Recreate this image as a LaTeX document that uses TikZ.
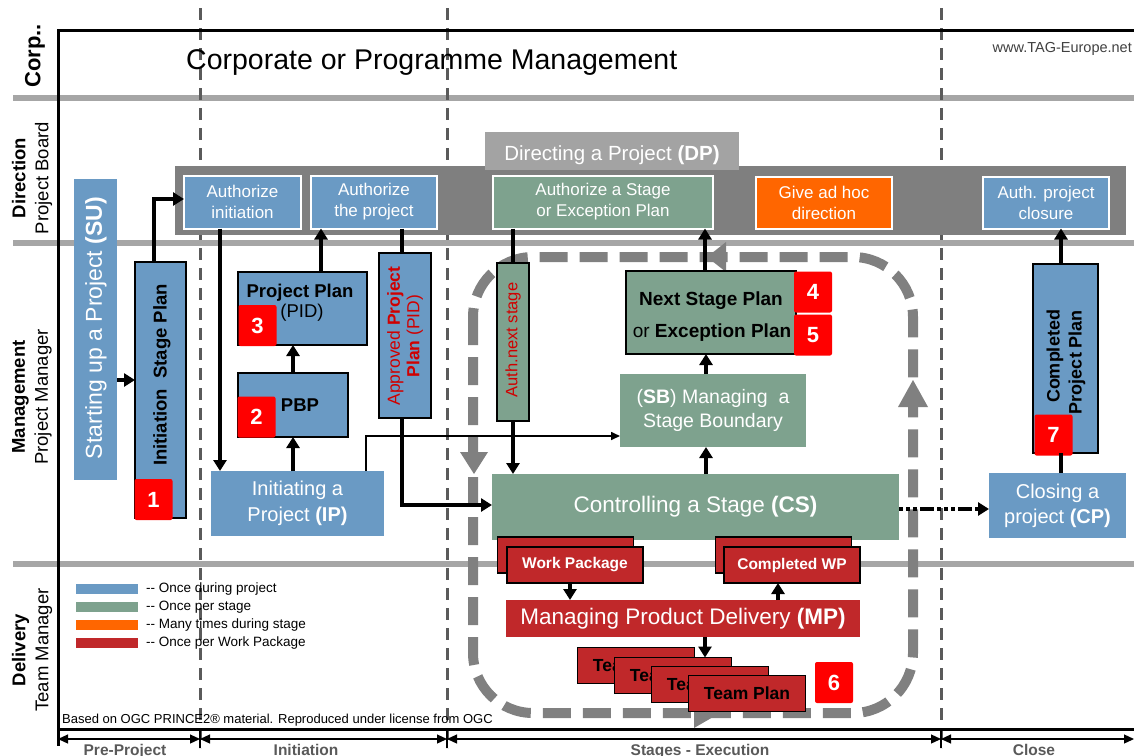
\documentclass[tikz,border=0pt]{standalone}
\usepackage{fontspec}
\setmainfont{Liberation Sans}
\usetikzlibrary{arrows.meta,calc}
\definecolor{pblue}{HTML}{6A9AC4}
\definecolor{pgreen}{HTML}{7EA28E}
\definecolor{porange}{HTML}{FF6600}
\definecolor{pred}{HTML}{C0282A}
\definecolor{bred}{HTML}{FF0000}
\definecolor{bandgray}{HTML}{7F7F7F}
\definecolor{tabgray}{HTML}{A3A3A3}
\definecolor{lanegray}{HTML}{A6A6A6}
\definecolor{phasegray}{HTML}{5A5A5A}
\definecolor{loopgray}{HTML}{808080}
\definecolor{axisgray}{HTML}{595959}
\definecolor{urlgray}{HTML}{404040}
\definecolor{txtred}{HTML}{D00000}
\newcommand\fz[2]{\fontsize{#1}{#2}\selectfont}
\begin{document}
\begin{tikzpicture}[x=1pt,y=-1pt,
  box/.style={rectangle, inner sep=0pt, outer sep=0pt},
  pbox/.style={box, fill=pblue, text=white},
  gbox/.style={box, fill=pgreen, text=white},
  dirbox/.style={box, draw=white, line width=2pt, text=white, align=center, font=\fz{17}{21}},
  framed/.style={draw=black, line width=2.2pt},
  badge/.style={box, fill=bred, text=white, rounded corners=2pt, minimum width=38pt, minimum height=41pt, font=\fz{22}{26}\bfseries},
  wpbox/.style={box, fill=pred, draw=black, line width=1.5pt, minimum width=136pt, minimum height=36pt, text=white, font=\fz{15.5}{18}\bfseries},
  tpbox/.style={box, fill=pred, draw=black, line width=1.5pt, minimum width=117pt, minimum height=36pt, text=black, font=\fz{17.5}{20}\bfseries},
  legbar/.style={box, minimum width=62pt, minimum height=10pt},
  legtxt/.style={anchor=west, inner sep=0pt, font=\fz{13.5}{16}},
  lanelbl/.style={rotate=90, align=center, inner sep=0pt, font=\fz{18.5}{23}},
  arr/.style={line width=4pt, -{Triangle[width=13pt,length=11pt]}},
  ln/.style={line width=4pt},
  thinarr/.style={line width=1.6pt, -{Triangle[width=8pt,length=9pt]}},
  dd/.style={line width=3.5pt, dash pattern=on 4pt off 3pt on 4pt off 3pt on 4pt off 3pt on 14pt off 3pt, -{Triangle[width=13pt,length=11pt]}},
  phase/.style={draw=phasegray, line width=3pt, dash pattern=on 12pt off 8pt},
  lane/.style={draw=lanegray, line width=6pt},
  loopline/.style={draw=loopgray, line width=10pt, dash pattern=on 28pt off 12pt, rounded corners=60pt},
  axisarr/.style={line width=1.2pt, {Triangle[width=9pt,length=10pt]}-{Triangle[width=9pt,length=10pt]}},
  axlbl/.style={anchor=base, inner sep=0pt, text=axisgray, font=\fz{15.5}{18}\bfseries}
]
\useasboundingbox (0,0) rectangle (1134,755);

% lane separators
\coordinate (l1a) at (13,98);  \coordinate (l1b) at (1134,98);
\coordinate (l2a) at (13,243); \coordinate (l2b) at (1134,243);
\coordinate (l3a) at (13,564); \coordinate (l3b) at (1134,564);
\draw[lane] (l1a) -- (l1b);
\draw[lane] (l2a) -- (l2b);
\draw[lane] (l3a) -- (l3b);

% phase lines
\coordinate (v1a) at (200,8); \coordinate (v1b) at (200,748);
\coordinate (v2a) at (447,8); \coordinate (v2b) at (447,748);
\coordinate (v3a) at (941,8); \coordinate (v3b) at (941,748);
\draw[phase] (v1a) -- (v1b);
\draw[phase] (v2a) -- (v2b);
\draw[phase] (v3a) -- (v3b);

% frame
\coordinate (f0) at (1134,30); \coordinate (f1) at (58,30); \coordinate (f2) at (58,746);
\coordinate (f3) at (58,729); \coordinate (f4) at (1134,729);
\draw[line width=3pt] (f0) -- (f1) -- (f2);
\draw[line width=3pt] (f3) -- (f4);

% titles and lane labels
\node[anchor=base west, inner sep=0pt, font=\fz{28.5}{32}] (corp) at (186,69) {Corporate or Programme Management};
\node[anchor=base east, inner sep=0pt, text=urlgray, font=\fz{14.5}{17}] (url) at (1132,52) {www.TAG-Europe.net};
\node[lanelbl, font=\fz{22}{26}\bfseries] (lcorp) at (35,56) {Corp..};
\node[lanelbl] (ldir) at (32,178) {\textbf{Direction}\\Project Board};
\node[lanelbl] (lman) at (32,397) {\textbf{Management}\\Project Manager};
\node[lanelbl] (ldel) at (32,650) {\textbf{Delivery}\\Team Manager};

% direction band
\node[box, fill=bandgray, minimum width=951pt, minimum height=69pt] (band) at (650.5,200.5) {};
\node[box, fill=tabgray, minimum width=254pt, minimum height=38pt] (dp) at (612,151) {};
\node[anchor=base, inner sep=0pt, text=white, font=\fz{20.5}{24}] (dpt) at (612,160) {Directing a Project \textbf{(DP)}};
\node[dirbox, fill=pblue, minimum width=117pt, minimum height=53pt] (ai) at (242.5,202) {Authorize\\initiation};
\node[dirbox, fill=pblue, minimum width=126pt, minimum height=53pt] (ap) at (374,202) {Authorize\\the project};
\node[dirbox, fill=pgreen, minimum width=220pt, minimum height=53pt] (as) at (603,202) {Authorize a Stage\\or Exception Plan};
\node[dirbox, fill=porange, minimum width=136pt, minimum height=52pt] (gd) at (824,202.5) {Give ad hoc\\direction};
\node[dirbox, fill=pblue, minimum width=126pt, minimum height=52pt] (apc) at (1046,202.5) {Auth. project\\closure};

% dashed stage loop
\coordinate (lpa) at (473,257); \coordinate (lpb) at (913,713);
\draw[loopline] (lpa) rectangle (lpb);
\fill[loopgray] (707,257) -- (726,242) -- (726,272) -- cycle;
\fill[loopgray] (474,474) -- (460,452) -- (488,452) -- cycle;
\fill[loopgray] (913,380) -- (898,407) -- (928,407) -- cycle;
\fill[loopgray] (720,713) -- (694,698) -- (694,728) -- cycle;

% management lane
\node[pbox, minimum width=43pt, minimum height=301pt] (su) at (95.5,329.5) {};
\node[rotate=90, text=white, inner sep=0pt, font=\fz{23}{26}] (sut) at (96,328) {Starting up a Project \textbf{(SU)}};
\node[pbox, framed, minimum width=51pt, minimum height=256pt] (isp) at (160.5,390) {};
\node[rotate=90, inner sep=0pt, font=\fz{18.5}{22}\bfseries] (ispt) at (162,375) {Initiation\ \ Stage Plan};
\node[badge] (b1) at (153.5,499.5) {1};

\node[pbox, minimum width=173pt, minimum height=65pt, font=\fz{20}{26}, align=center] (ip) at (297.5,503.5) {Initiating a\\Project \textbf{(IP)}};
\node[pbox, framed, minimum width=110pt, minimum height=64pt] (pbp) at (293,405) {};
\node[anchor=base, inner sep=0pt, font=\fz{18.5}{22}\bfseries] (pbpt) at (300,411) {PBP};
\node[badge] (b2) at (256.5,417) {2};
\node[pbox, framed, minimum width=129pt, minimum height=73pt] (pp) at (302.5,308.5) {};
\node[anchor=base, inner sep=0pt, font=\fz{18.5}{22}\bfseries] (ppt1) at (300,297) {Project Plan};
\node[anchor=base, inner sep=0pt, font=\fz{18.5}{22}] (ppt2) at (302,317) {(PID)};
\node[badge] (b3) at (257.5,325.5) {3};
\node[pbox, framed, minimum width=52pt, minimum height=165pt] (app) at (405,335.5) {};
\node[rotate=90, align=center, inner sep=0pt, text=txtred, font=\fz{17.5}{19.5}] (appt) at (405,336) {Approved \textbf{Project}\\\textbf{Plan} (PID)};

\node[gbox, framed, minimum width=32pt, minimum height=158pt] (ans) at (513,342) {};
\node[rotate=90, inner sep=0pt, text=txtred, font=\fz{16.5}{19}] (anst) at (513,340) {Auth.next stage};
\node[gbox, minimum width=407pt, minimum height=66pt, font=\fz{22.5}{26}] (cs) at (695.5,507) {Controlling a Stage \textbf{(CS)}};
\node[gbox, minimum width=186pt, minimum height=73pt, font=\fz{19.5}{24}, align=center] (sb) at (713,410.5) {(\textbf{SB}) Managing\ \ a\\Stage Boundary};
\node[gbox, framed, minimum width=170pt, minimum height=83pt] (nsp) at (711,312.5) {};
\node[anchor=base, inner sep=0pt, font=\fz{19}{22}\bfseries] (nspt1) at (711,305) {Next Stage Plan};
\node[anchor=base, inner sep=0pt, font=\fz{19}{22}] (nspt2) at (712,337) {or \textbf{Exception Plan}};
\node[badge] (b4) at (813,292) {4};
\node[badge] (b5) at (813,335) {5};

\node[pbox, minimum width=137pt, minimum height=65pt, font=\fz{20}{25}, align=center] (cp) at (1057.5,505.5) {Closing a\\project \textbf{(CP)}};
\node[pbox, framed, minimum width=65pt, minimum height=189pt] (cpp) at (1065.5,358.5) {};
\node[rotate=90, align=right, inner sep=0pt, font=\fz{18}{22}\bfseries] (cppt) at (1066,362) {Completed\\Project Plan};
\node[badge] (b7) at (1053.5,435) {7};

% delivery lane
\node[wpbox] (wpbk) at (565.5,555) {};
\node[wpbox] (wp) at (575,565) {Work Package};
\node[wpbox] (cwbk) at (783.5,555) {};
\node[wpbox] (cw) at (792,565) {Completed WP};
\node[box, fill=pred, text=white, minimum width=354pt, minimum height=37pt, font=\fz{22.5}{26}] (mp) at (683,618.5) {Managing Product Delivery \textbf{(MP)}};
\node[tpbox] (tp1) at (636,665.5) {Team Plan};
\node[tpbox] (tp2) at (673,675.5) {Team Plan};
\node[tpbox] (tp3) at (710,684.5) {Team Plan};
\node[tpbox] (tp4) at (747,693.5) {Team Plan};
\node[badge] (b6) at (834,682.5) {6};

% connectors
\coordinate (suA) at ([yshift=-50.5pt]su.east);
\draw[arr] (suA) -- (suA -| isp.west);
\coordinate (ispT) at ([xshift=-6.5pt]isp.north);
\coordinate (aiW) at ([yshift=3pt]ai.west);
\draw[arr] (ispT) |- (aiW);
\coordinate (aiB) at ([xshift=-22.5pt]ai.south);
\draw[arr] (aiB) -- (aiB |- ip.north);
\draw[arr] (pbp.south |- ip.north) -- (pbp.south);
\draw[arr] (pbp.north) -- (pbp.north |- pp.south);
\coordinate (ppT) at ([xshift=18.5pt]pp.north);
\draw[arr] (ppT) -- (ppT |- ap.south);
\coordinate (appT) at ([xshift=-3pt]app.north);
\coordinate (appB) at ([xshift=-3pt]app.south);
\draw[ln] (appT |- ap.south) -- (appT);
\coordinate (csW) at ([yshift=2pt]cs.west);
\draw[arr] (appB) |- (csW);
\coordinate (ipT) at ([xshift=68.5pt]ip.north);
\coordinate (sbW) at ([yshift=-25.5pt]sb.west);
\draw[thinarr] (ipT) |- (sbW);
\draw[ln] (ans.north |- as.south) -- (ans.north);
\draw[arr] (ans.south) -- (ans.south |- cs.north);
\coordinate (sbB) at ([xshift=-7pt]sb.south);
\draw[arr] (sbB |- cs.north) -- (sbB);
\coordinate (sbT) at ([xshift=-7pt]sb.north);
\draw[arr] (sbT) -- (sbT |- nsp.south);
\coordinate (nspT) at ([xshift=-6pt]nsp.north);
\draw[arr] (nspT) -- (nspT |- as.south);
\coordinate (csE) at ([yshift=-2pt]cs.east);
\draw[dd] (csE) -- (csE -| cp.west);
\coordinate (cpT) at ([xshift=3.5pt]cp.north);
\draw[ln] (cpT) -- (cpT |- cpp.south);
\draw[arr] (cpT |- cpp.north) -- (cpT |- apc.south);
\coordinate (wpB) at ([xshift=-5pt]wp.south);
\draw[arr] (wpB) -- (wpB |- mp.north);
\coordinate (cwB) at ([xshift=-14pt]cw.south);
\draw[arr] (cwB |- mp.north) -- (cwB);
\coordinate (mpB) at ([xshift=22pt]mp.south);
\draw[arr] (mpB) -- (mpB |- tp2.north);

% legend
\node[legbar, fill=pblue] (lg1) at (107,589) {};
\node[legbar, fill=pgreen] (lg2) at (107,607) {};
\node[legbar, fill=porange] (lg3) at (107,625) {};
\node[legbar, fill=pred] (lg4) at (107,643) {};
\node[legtxt] (lt1) at (146,589) {-{}- Once during project};
\node[legtxt] (lt2) at (146,607) {-{}- Once per stage};
\node[legtxt] (lt3) at (146,625) {-{}- Many times during stage};
\node[legtxt] (lt4) at (146,643) {-{}- Once per Work Package};
\node[anchor=base west, inner sep=0pt, font=\fz{13}{15}] (fn) at (62,723) {Based on OGC PRINCE2® material. Reproduced under license from OGC};

% phase axis
\coordinate (a0) at (58,739); \coordinate (a1) at (200,739); \coordinate (a2) at (447,739);
\coordinate (a3) at (941,739); \coordinate (a4) at (1134,739);
\draw[axisarr] (a0) -- (a1);
\draw[axisarr] (a1) -- (a2);
\draw[axisarr] (a2) -- (a3);
\draw[axisarr] (a3) -- (a4);
\foreach \t in {a1,a2,a3} {\draw[line width=2pt] ([yshift=10pt]\t) -- ([yshift=-9pt]\t);}
\node[axlbl] (x1) at (125,755) {Pre-Project};
\node[axlbl] (x2) at (306,755) {Initiation};
\node[axlbl] (x3) at (700,755) {Stages - Execution};
\node[axlbl] (x4) at (1034,755) {Close};
\end{tikzpicture}
\end{document}
